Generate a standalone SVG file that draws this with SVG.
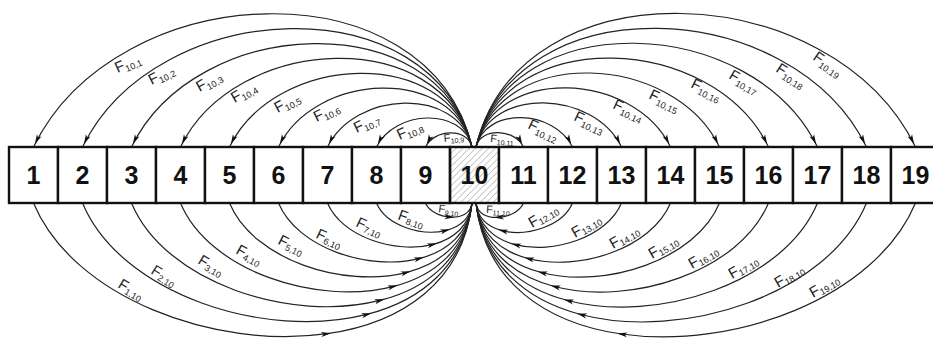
<svg xmlns="http://www.w3.org/2000/svg" width="933" height="340" viewBox="0 0 933 340">
<style>
.box{fill:#fff;stroke:#111;stroke-width:2.4}
.num{font-family:"Liberation Sans",Arial,sans-serif;font-weight:bold;font-size:25px;fill:#111;text-anchor:middle}
.arc{fill:none;stroke:#222;stroke-width:1.2}
.top{marker-end:url(#ahEnd)}
.bot{marker-mid:url(#ahMid)}
.lb{font-family:"Liberation Sans",Arial,sans-serif;font-size:15px;fill:#222}
.sb{font-size:9px}
.ls{font-family:"Liberation Sans",Arial,sans-serif;font-size:11px;fill:#222}
.ss{font-size:7px}
</style>
<defs>
<marker id="ahEnd" markerUnits="userSpaceOnUse" markerWidth="10" markerHeight="5" refX="13" refY="2.5" orient="auto" overflow="visible"><path d="M0,0 L10,2.5 L0,5 L2.5,2.5 z" fill="#111"/></marker>
<marker id="ahMid" markerUnits="userSpaceOnUse" markerWidth="10" markerHeight="5" refX="6" refY="2.5" orient="auto" overflow="visible"><path d="M0,0 L10,2.5 L0,5 L2.5,2.5 z" fill="#111"/></marker>
<pattern id="hatch" patternUnits="userSpaceOnUse" width="6.5" height="6.5"><path d="M-1,7.5 L7.5,-1 M-1,1 L1,-1 M5.5,7.5 L7.5,5.5" stroke="#a0a0a0" stroke-width="0.8"/></pattern>
</defs>
<g id="connectors">
<path class="arc top" d="M472,147 C428.1,-37.2 116.8,-24 33.5,147"/>
<path class="arc top" d="M472,147 C433,-16.6 156.5,-4.9 82.5,147"/>
<path class="arc top" d="M472,147 C437.9,4 196.2,14.2 131.5,147"/>
<path class="arc top" d="M472,147 C442.8,24.6 235.9,33.3 180.5,147"/>
<path class="arc top" d="M472,147 C447.7,45.1 275.6,52.4 229.5,147"/>
<path class="arc top" d="M472,147 C452.6,65.7 315.3,71.5 278.5,147"/>
<path class="arc top" d="M472,147 C457.5,86.3 355,90.6 327.5,147"/>
<path class="arc top" d="M472,147 C462.4,106.9 394.6,109.8 376.5,147"/>
<path class="arc top" d="M472,147 C467.3,127.5 434.3,128.9 425.5,147"/>
<path class="arc top" d="M476,147 C480.8,127 514.5,128.5 523.5,147"/>
<path class="arc top" d="M476,147 C485.7,106.5 554.2,109.4 572.5,147"/>
<path class="arc top" d="M476,147 C490.6,85.9 593.9,90.3 621.5,147"/>
<path class="arc top" d="M476,147 C495.5,65.3 633.5,71.1 670.5,147"/>
<path class="arc top" d="M476,147 C500.4,44.7 673.2,52 719.5,147"/>
<path class="arc top" d="M476,147 C505.3,24.1 712.9,32.9 768.5,147"/>
<path class="arc top" d="M476,147 C510.2,3.6 752.6,13.8 817.5,147"/>
<path class="arc top" d="M476,147 C515.1,-17 792.3,-5.3 866.5,147"/>
<path class="arc top" d="M476,147 C520,-37.6 832,-24.4 915.5,147"/>
<path class="arc bot" d="M33.5,203 C73,297.7 215,349.8 327.1,333.7 C401.8,323 463.2,281.9 472,203"/>
<path class="arc bot" d="M82.5,203 C120.5,294.1 265.4,340.8 367.6,314.2 C422.6,299.9 465.2,264.3 472,203"/>
<path class="arc bot" d="M131.5,203 C164.7,282.7 291.4,323.5 380.7,300.2 C428.8,287.8 466,256.6 472,203"/>
<path class="arc bot" d="M180.5,203 C208.9,271.2 317.4,306.2 393.8,286.3 C435,275.6 466.9,248.9 472,203"/>
<path class="arc bot" d="M229.5,203 C253.1,259.7 343.4,288.8 407,272.3 C441.2,263.4 467.8,241.2 472,203"/>
<path class="arc bot" d="M278.5,203 C297.4,248.3 369.4,271.5 420.1,258.3 C447.4,251.2 468.6,233.5 472,203"/>
<path class="arc bot" d="M327.5,203 C341.6,236.8 395.4,254.1 433.3,244.3 C453.7,239 469.5,225.8 472,203"/>
<path class="arc bot" d="M376.5,203 C385.8,225.3 421.3,236.8 446.4,230.3 C459.9,226.8 470.3,218 472,203"/>
<path class="arc bot" d="M425.5,203 C429,211.4 440,216.6 450.5,217.1 C461,217.6 470.8,213.5 472,203"/>
<path class="arc bot" d="M523.5,203 C519.9,211.6 508.7,216.9 498,217.4 C487.3,218 477.2,213.7 476,203"/>
<path class="arc bot" d="M572.5,203 C563.1,225.6 527.2,237.2 501.9,230.6 C488.2,227 477.7,218.2 476,203"/>
<path class="arc bot" d="M621.5,203 C607.3,237 553.2,254.5 515,244.6 C494.5,239.2 478.5,225.9 476,203"/>
<path class="arc bot" d="M670.5,203 C651.5,248.5 579.2,271.8 528.1,258.5 C500.7,251.4 479.4,233.6 476,203"/>
<path class="arc bot" d="M719.5,203 C695.8,260 605.2,289.2 541.3,272.5 C506.9,263.6 480.3,241.4 476,203"/>
<path class="arc bot" d="M768.5,203 C740,271.4 631.1,306.5 554.4,286.5 C513.1,275.8 481.1,249.1 476,203"/>
<path class="arc bot" d="M817.5,203 C784.2,282.9 657.1,323.9 567.6,300.5 C519.3,288 482,256.8 476,203"/>
<path class="arc bot" d="M866.5,203 C828.4,294.4 683.1,341.2 580.7,314.5 C525.6,300.2 482.8,264.5 476,203"/>
<path class="arc bot" d="M915.5,203 C875.9,297.9 733.5,350.1 621.2,334 C546.3,323.2 484.8,282.1 476,203"/>
</g>
<g id="labels">
<text class="lb" transform="translate(117.5,73) rotate(-24)">F<tspan class="sb" dy="3">10,1</tspan></text>
<text class="lb" transform="translate(151.5,85) rotate(-27)">F<tspan class="sb" dy="3">10,2</tspan></text>
<text class="lb" transform="translate(199.5,92) rotate(-29)">F<tspan class="sb" dy="3">10,3</tspan></text>
<text class="lb" transform="translate(234.5,103) rotate(-30)">F<tspan class="sb" dy="3">10,4</tspan></text>
<text class="lb" transform="translate(277.5,113) rotate(-28)">F<tspan class="sb" dy="3">10,5</tspan></text>
<text class="lb" transform="translate(316.5,122) rotate(-26)">F<tspan class="sb" dy="3">10,6</tspan></text>
<text class="lb" transform="translate(356.5,133) rotate(-25)">F<tspan class="sb" dy="3">10,7</tspan></text>
<text class="lb" transform="translate(399.5,140) rotate(-24)">F<tspan class="sb" dy="3">10,8</tspan></text>
<text class="ls" transform="translate(444,142) rotate(-5)">F<tspan class="ss" dy="2">10,9</tspan></text>
<text class="ls" transform="translate(490,142) rotate(5)">F<tspan class="ss" dy="2">10,11</tspan></text>
<text class="lb" transform="translate(527,128) rotate(25)">F<tspan class="sb" dy="3">10,12</tspan></text>
<text class="lb" transform="translate(573,120) rotate(25)">F<tspan class="sb" dy="3">10,13</tspan></text>
<text class="lb" transform="translate(612,108) rotate(25)">F<tspan class="sb" dy="3">10,14</tspan></text>
<text class="lb" transform="translate(648,98) rotate(26)">F<tspan class="sb" dy="3">10,15</tspan></text>
<text class="lb" transform="translate(690,87) rotate(27)">F<tspan class="sb" dy="3">10,16</tspan></text>
<text class="lb" transform="translate(728,78) rotate(30)">F<tspan class="sb" dy="3">10,17</tspan></text>
<text class="lb" transform="translate(775,71) rotate(33)">F<tspan class="sb" dy="3">10,18</tspan></text>
<text class="lb" transform="translate(812,59) rotate(35)">F<tspan class="sb" dy="3">10,19</tspan></text>
<text class="lb" transform="translate(117,287) rotate(31)">F<tspan class="sb" dy="2">1,10</tspan></text>
<text class="lb" transform="translate(150,273) rotate(32)">F<tspan class="sb" dy="2">2,10</tspan></text>
<text class="lb" transform="translate(197,263) rotate(31)">F<tspan class="sb" dy="2">3,10</tspan></text>
<text class="lb" transform="translate(235,253) rotate(29)">F<tspan class="sb" dy="2">4,10</tspan></text>
<text class="lb" transform="translate(277,243.5) rotate(27)">F<tspan class="sb" dy="2">5,10</tspan></text>
<text class="lb" transform="translate(315,237.5) rotate(25)">F<tspan class="sb" dy="2">6,10</tspan></text>
<text class="lb" transform="translate(355,226) rotate(25)">F<tspan class="sb" dy="2">7,10</tspan></text>
<text class="lb" transform="translate(397,219) rotate(20)">F<tspan class="sb" dy="2">8,10</tspan></text>
<text class="ls" transform="translate(438,212) rotate(8)">F<tspan class="ss" dy="2">9,10</tspan></text>
<text class="ls" transform="translate(486,213) rotate(3)">F<tspan class="ss" dy="2">11,10</tspan></text>
<text class="lb" transform="translate(532,228) rotate(-30)">F<tspan class="sb" dy="2">12,10</tspan></text>
<text class="lb" transform="translate(575,238) rotate(-30)">F<tspan class="sb" dy="2">13,10</tspan></text>
<text class="lb" transform="translate(613,249) rotate(-30)">F<tspan class="sb" dy="2">14,10</tspan></text>
<text class="lb" transform="translate(652,259) rotate(-30)">F<tspan class="sb" dy="2">15,10</tspan></text>
<text class="lb" transform="translate(692,269) rotate(-30)">F<tspan class="sb" dy="2">16,10</tspan></text>
<text class="lb" transform="translate(732,279) rotate(-30)">F<tspan class="sb" dy="2">17,10</tspan></text>
<text class="lb" transform="translate(778,288) rotate(-30)">F<tspan class="sb" dy="2">18,10</tspan></text>
<text class="lb" transform="translate(813,298) rotate(-30)">F<tspan class="sb" dy="2">19,10</tspan></text>
</g>
<g id="n1"><rect class="box" x="9" y="147" width="49" height="56"/><text class="num" x="33.5" y="184">1</text></g>
<g id="n2"><rect class="box" x="58" y="147" width="49" height="56"/><text class="num" x="82.5" y="184">2</text></g>
<g id="n3"><rect class="box" x="107" y="147" width="49" height="56"/><text class="num" x="131.5" y="184">3</text></g>
<g id="n4"><rect class="box" x="156" y="147" width="49" height="56"/><text class="num" x="180.5" y="184">4</text></g>
<g id="n5"><rect class="box" x="205" y="147" width="49" height="56"/><text class="num" x="229.5" y="184">5</text></g>
<g id="n6"><rect class="box" x="254" y="147" width="49" height="56"/><text class="num" x="278.5" y="184">6</text></g>
<g id="n7"><rect class="box" x="303" y="147" width="49" height="56"/><text class="num" x="327.5" y="184">7</text></g>
<g id="n8"><rect class="box" x="352" y="147" width="49" height="56"/><text class="num" x="376.5" y="184">8</text></g>
<g id="n9"><rect class="box" x="401" y="147" width="49" height="56"/><text class="num" x="425.5" y="184">9</text></g>
<g id="n10"><rect class="box" x="450" y="147" width="49" height="56" style="fill:url(#hatch)"/><text class="num" x="474.5" y="184">10</text></g>
<g id="n11"><rect class="box" x="499" y="147" width="49" height="56"/><text class="num" x="523.5" y="184">11</text></g>
<g id="n12"><rect class="box" x="548" y="147" width="49" height="56"/><text class="num" x="572.5" y="184">12</text></g>
<g id="n13"><rect class="box" x="597" y="147" width="49" height="56"/><text class="num" x="621.5" y="184">13</text></g>
<g id="n14"><rect class="box" x="646" y="147" width="49" height="56"/><text class="num" x="670.5" y="184">14</text></g>
<g id="n15"><rect class="box" x="695" y="147" width="49" height="56"/><text class="num" x="719.5" y="184">15</text></g>
<g id="n16"><rect class="box" x="744" y="147" width="49" height="56"/><text class="num" x="768.5" y="184">16</text></g>
<g id="n17"><rect class="box" x="793" y="147" width="49" height="56"/><text class="num" x="817.5" y="184">17</text></g>
<g id="n18"><rect class="box" x="842" y="147" width="49" height="56"/><text class="num" x="866.5" y="184">18</text></g>
<g id="n19"><rect class="box" x="891" y="147" width="49" height="56"/><text class="num" x="915.5" y="184">19</text></g>
</svg>
